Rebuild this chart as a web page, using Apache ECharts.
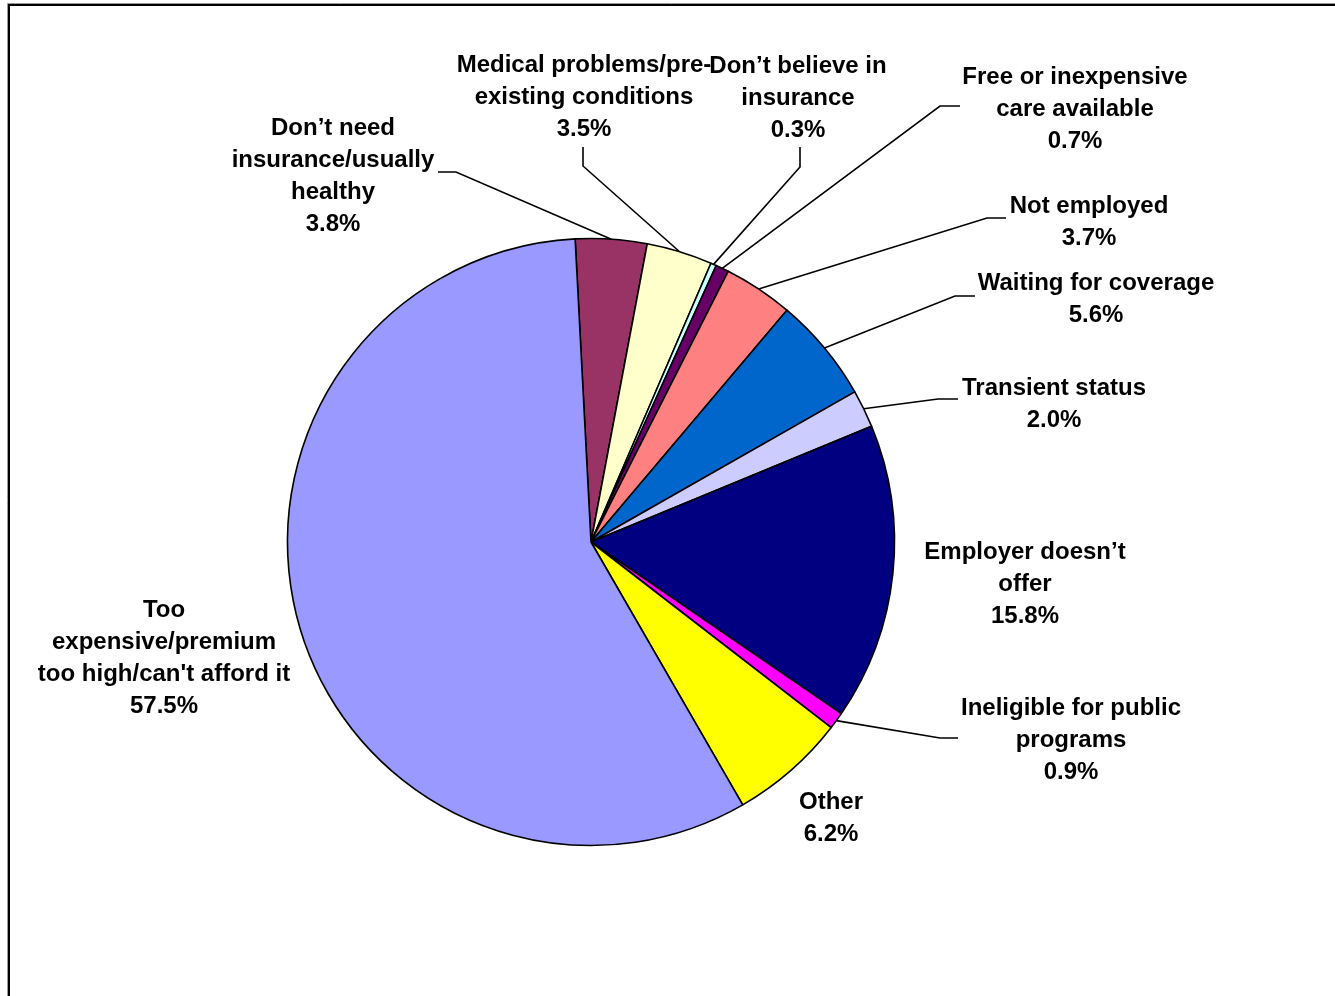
<!DOCTYPE html>
<html><head><meta charset="utf-8">
<script src="https://cdn.jsdelivr.net/npm/echarts@6/dist/echarts.min.js"></script>
<style>html,body{margin:0;padding:0;background:#fff}#c{width:1335px;height:996px}</style>
</head><body><div id="c"></div>
<script>
// ---- data ----
const categories = [
  "Don’t need\ninsurance/usually\nhealthy",
  "Medical problems/pre-\nexisting conditions",
  "Don’t believe in\ninsurance",
  "Free or inexpensive\ncare available",
  "Not employed",
  "Waiting for coverage",
  "Transient status",
  "Employer doesn’t\noffer",
  "Ineligible for public\nprograms",
  "Other",
  "Too\nexpensive/premium\ntoo high/can't afford it"
];
const values = [3.8, 3.5, 0.3, 0.7, 3.7, 5.6, 2.0, 15.8, 0.9, 6.2, 57.5];

// ---- styles ----
const palette = ["#993366", "#FFFFCC", "#CCFFFF", "#660066", "#FF8080", "#0066CC",
                 "#CCCCFF", "#000080", "#FF00FF", "#FFFF00", "#9999FF"];
const labelPlacement = [
  { x: 333,  y: 176, elbow: [[456, 172], [438, 172]] },
  { x: 584,  y: 97,  elbow: [[583, 166], [583, 147]] },
  { x: 798,  y: 98,  elbow: [[800, 167], [800, 147]] },
  { x: 1075, y: 109, elbow: [[940, 106], [960, 106]] },
  { x: 1089, y: 222, elbow: [[987, 218], [1006, 218]] },
  { x: 1096, y: 299, elbow: [[955, 296], [975, 296]] },
  { x: 1054, y: 404, elbow: [[938, 399], [958, 399]] },
  { x: 1025, y: 584, elbow: null },
  { x: 1071, y: 740, elbow: [[940, 738], [958, 738]] },
  { x: 831,  y: 818, elbow: null },
  { x: 164,  y: 658, elbow: null }
];
const CX = 591, CY = 542, R = 303.5, START = 93;

const total = values.reduce((a, b) => a + b, 0);
function arcPoint(i) {
  let before = 0;
  for (let k = 0; k < i; k++) before += values[k];
  const mid = (START - (before + values[i] / 2) / total * 360) * Math.PI / 180;
  return [CX + R * Math.cos(mid), CY - R * Math.sin(mid)];
}

const chart = echarts.init(document.getElementById('c'), null, { renderer: 'canvas' });
chart.setOption({
  animation: false,
  backgroundColor: '#fff',
  graphic: [
    { type: 'rect', shape: { x: 7.5, y: 3.5, width: 1400, height: 1100 },
      style: { fill: 'none', stroke: '#999', lineWidth: 1 }, silent: true },
    { type: 'rect', shape: { x: 9, y: 5, width: 1400, height: 1100 },
      style: { fill: 'none', stroke: '#000', lineWidth: 2 }, silent: true }
  ],
  series: [{
    type: 'pie',
    center: [CX, CY],
    radius: R,
    startAngle: START,
    clockwise: true,
    avoidLabelOverlap: false,
    minAngle: 0,
    emphasis: { disabled: true },
    itemStyle: { borderColor: '#000', borderWidth: 1.6 },
    label: {
      show: true,
      position: 'outside',
      color: '#000',
      fontFamily: 'Liberation Sans, Arial, sans-serif',
      fontWeight: 'bold',
      fontSize: 24,
      lineHeight: 32,
      align: 'center',
      formatter: p => p.name + '\n' + p.value.toFixed(1) + '%'
    },
    labelLine: { show: true, smooth: false, lineStyle: { color: '#000', width: 1.6 } },
    labelLayout: function (params) {
      const c = labelPlacement[params.dataIndex];
      const out = { x: c.x, y: c.y, align: 'center', verticalAlign: 'middle' };
      if (c.elbow) {
        const start = (params.labelLinePoints && params.labelLinePoints[0]) || arcPoint(params.dataIndex);
        out.labelLinePoints = [start].concat(c.elbow);
      }
      return out;
    },
    data: categories.map((name, i) => ({
      name: name,
      value: values[i],
      itemStyle: { color: palette[i] },
      labelLine: { show: !!labelPlacement[i].elbow }
    }))
  }]
});
</script>
</body></html>
